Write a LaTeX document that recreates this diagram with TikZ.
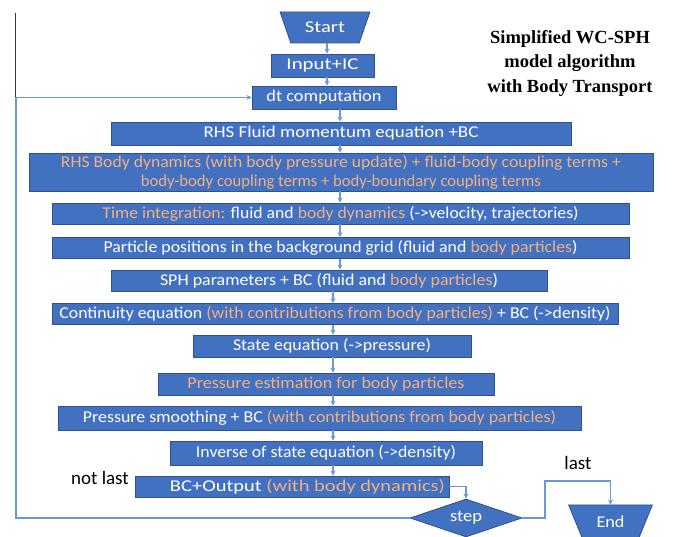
\documentclass[tikz,border=0pt]{standalone}
\usepackage{fontspec}
\usepackage{graphicx}
\setmainfont{Carlito}
\newfontfamily\titlefont{Liberation Serif}
\usetikzlibrary{shapes.geometric,arrows.meta}
\definecolor{boxfill}{HTML}{4371C2}
\definecolor{boxdraw}{HTML}{2F528F}
\definecolor{conn}{HTML}{6A9AD6}
\definecolor{orng}{HTML}{F2B07E}
\newcommand{\FitTo}[2]{\resizebox{#1}{\height}{#2}}
\newcommand{\og}[1]{\textcolor{orng}{#1}}
\tikzset{
  flowbox/.style={draw=boxdraw, fill=boxfill, line width=0.8pt, text=white, inner sep=0pt,
    font=\fontsize{16.5}{19}\selectfont, align=center},
  termshape/.style={flowbox, trapezium, trapezium stretches=true, shape border rotate=180,
    trapezium left angle=60, trapezium right angle=60},
  decshape/.style={flowbox, diamond, aspect=2.9},
  arr/.style={draw=conn, line width=1.1pt, -{Stealth[length=5pt,width=5pt]}},
  lbl/.style={text=black, inner sep=0pt, font=\fontsize{19}{21}\selectfont},
  titletext/.style={text=black, inner sep=0pt, align=center,
    font=\titlefont\bfseries\fontsize{18.5}{24.5}\selectfont},
}
\begin{document}
\begin{tikzpicture}[x=1pt,y=-1pt]
\fill[white] (0,0) rectangle (673,537);
\useasboundingbox (0,0) rectangle (673,537);

% stray vertical rule at the left
\draw[black!80, line width=0.9pt] (15,13) -- (15,275);

% title
\node[titletext] (title) at (570,63) {Simplified WC-SPH\\model algorithm\\with Body Transport};

% nodes
\node[termshape, minimum width=90pt, minimum height=31pt] (start) at (325,27.5) {\FitTo{40pt}{Start}};
\node[flowbox, minimum width=103pt, minimum height=23pt] (input) at (322.5,65.5) {\FitTo{72pt}{Input+IC}};
\node[flowbox, minimum width=144pt, minimum height=23pt] (dt) at (324,97.5) {\FitTo{115pt}{dt computation}};
\node[flowbox, minimum width=460pt, minimum height=23pt] (rhsf) at (341,133.5) {\FitTo{275pt}{RHS Fluid momentum equation +BC}};
\node[flowbox, minimum width=624pt, minimum height=38pt] (rhsb) at (341,172)
  {\FitTo{560pt}{\og{RHS Body dynamics (with body pressure update) + fluid-body coupling terms +}}\\
   \FitTo{400pt}{\og{body-body coupling terms + body-boundary coupling terms}}};
\node[flowbox, minimum width=577pt, minimum height=21pt] (time) at (340.5,213.5)
  {\FitTo{476pt}{\og{Time integration:} fluid and \og{body dynamics} (->velocity, trajectories)}};
\node[flowbox, minimum width=577pt, minimum height=21pt] (part) at (340.5,248)
  {\FitTo{474pt}{Particle positions in the background grid (fluid and \og{body particles})}};
\node[flowbox, minimum width=436pt, minimum height=21pt] (sph) at (329,280.5)
  {\FitTo{338pt}{SPH parameters + BC (fluid and \og{body particles})}};
\node[flowbox, minimum width=566pt, minimum height=21pt] (cont) at (335,314)
  {\FitTo{551pt}{Continuity equation \og{(with contributions from body particles)} + BC (->density)}};
\node[flowbox, minimum width=278pt, minimum height=22pt] (state) at (332,346)
  {\FitTo{198pt}{State equation (->pressure)}};
\node[flowbox, minimum width=336pt, minimum height=22pt] (pest) at (326,384)
  {\FitTo{277pt}{\og{Pressure estimation for body particles}}};
\node[flowbox, minimum width=523pt, minimum height=24pt] (psmooth) at (319.5,418)
  {\FitTo{473pt}{Pressure smoothing + BC \og{(with contributions from body particles)}}};
\node[flowbox, minimum width=312pt, minimum height=24pt] (inv) at (326,453)
  {\FitTo{260pt}{Inverse of state equation (->density)}};
\node[flowbox, minimum width=314pt, minimum height=21pt] (bcout) at (292,486.5)
  {\hspace*{31pt}\FitTo{275pt}{BC+Output \og{(with body dynamics)}}};
\node[decshape, minimum width=112pt, minimum height=38pt] (step) at (466,518) {\FitTo{32pt}{step}};
\node[termshape, minimum width=84pt, minimum height=33pt] (end) at (610.5,521.5) {\FitTo{28pt}{End}};

% labels
\node[lbl] (notlast) at (100,478) {not last};
\node[lbl] (last) at (578,463) {last};

% helper coordinates
\coordinate (c1) at (327,0);
\coordinate (c2) at (340,0);
\coordinate (c3) at (333,0);
\coordinate (k1) at (545,481);
\coordinate (k2) at (16,0);

% vertical flow
\draw[arr] (start.south -| c1) -- (input.north -| c1);
\draw[arr] (input.south -| c1) -- (dt.north -| c1);
\draw[arr] (dt.south -| c2) -- (rhsf.north -| c2);
\draw[arr] (rhsf.south -| c2) -- (rhsb.north -| c2);
\draw[arr] (rhsb.south -| c2) -- (time.north -| c2);
\draw[arr] (time.south -| c2) -- (part.north -| c2);
\draw[arr] (part.south -| c2) -- (sph.north -| c2);
\draw[arr] (sph.south -| c3) -- (cont.north -| c3);
\draw[arr] (cont.south -| c3) -- (state.north -| c3);
\draw[arr] (state.south -| c3) -- (pest.north -| c3);
\draw[arr] (pest.south -| c3) -- (psmooth.north -| c3);
\draw[arr] (psmooth.south -| c3) -- (inv.north -| c3);
\draw[arr] (inv.south -| c3) -- (bcout.north -| c3);

% decision connectors
\draw[arr] (bcout.east) -| (step.north);
\draw[arr] (step.east) -| (k1) -| (end.north);
\draw[arr] (step.west) -| (k2 |- dt.west) -- (dt.west);
\end{tikzpicture}
\end{document}
